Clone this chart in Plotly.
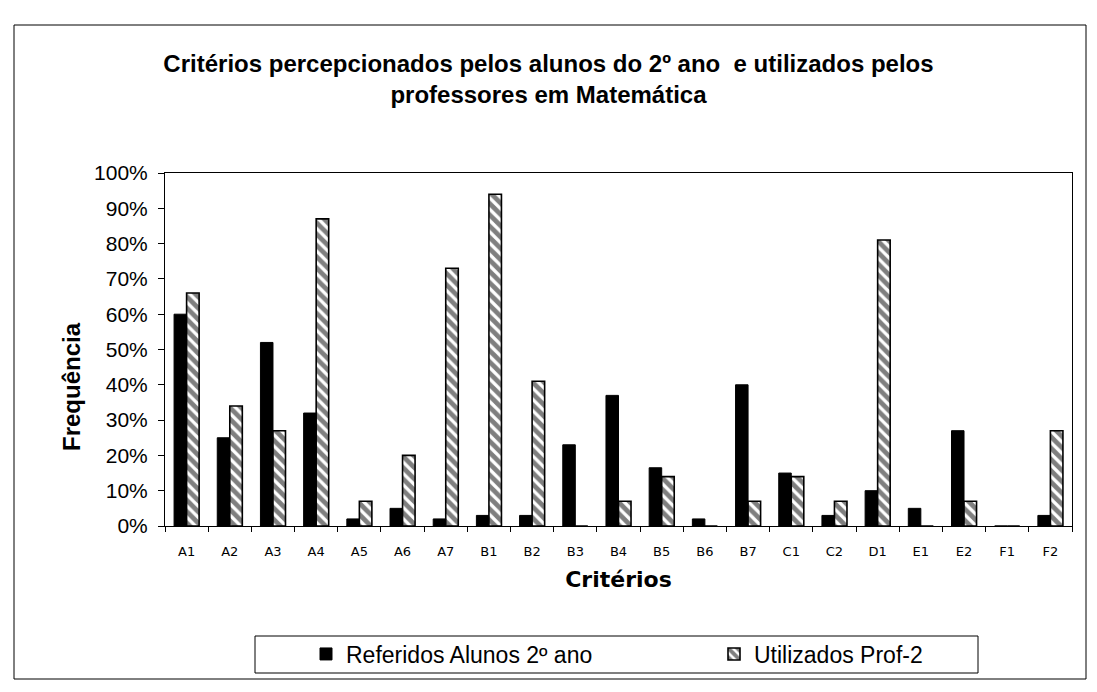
import plotly.graph_objects as go

categories = ["A1", "A2", "A3", "A4", "A5", "A6", "A7", "B1", "B2", "B3", "B4",
              "B5", "B6", "B7", "C1", "C2", "D1", "E1", "E2", "F1", "F2"]
alunos = [60, 25, 52, 32, 2, 5, 2, 3, 3, 23, 37, 16.5, 2, 40, 15, 3, 10, 5, 27, 0, 3]
prof = [66, 34, 27, 87, 7, 20, 73, 94, 41, 0, 7, 14, 0, 7, 14, 7, 81, 0, 7, 0, 27]
y_ticks = [0, 10, 20, 30, 40, 50, 60, 70, 80, 90, 100]
y_tick_labels = [f"{v}%" for v in y_ticks]

# page has an 8px body margin: figure sized to fit the 1097x692 window
OFF = 8
W, H = 1097 - 2 * OFF, 692 - 2 * OFF
# plot area in screen pixels: x 165..1072, y 173..526
L = 165 - OFF
R = W - (1072 - OFF)
T = 173 - OFF
B = H - (526 - OFF)
pw, ph = W - L - R, H - T - B


def px(x):
    """screen x -> paper x"""
    return (x - OFF - L) / pw


def py(y):
    """screen y -> paper y"""
    return (H - B - (y - OFF)) / ph


fig = go.Figure()
fig.add_trace(go.Bar(
    x=categories, y=alunos, name="Referidos Alunos 2º ano", legend="legend",
    marker=dict(color="black", line=dict(color="black", width=1)),
))
fig.add_trace(go.Bar(
    x=categories, y=prof, name="Utilizados Prof-2", legend="legend2",
    marker=dict(color="white", line=dict(color="black", width=1.6),
                pattern=dict(shape="\\", fgcolor="black", bgcolor="white",
                             size=8, solidity=0.6)),
))

legend_font = dict(family="Liberation Sans, Arial", size=23, color="black")

fig.update_layout(
    width=W, height=H,
    margin=dict(l=L, r=R, t=T, b=B, autoexpand=False),
    paper_bgcolor="white", plot_bgcolor="white",
    showlegend=True,
    barmode="group", bargap=0.42, bargroupgap=0,
    title=dict(
        text="Critérios percepcionados pelos alunos do 2º ano  e utilizados pelos<br>professores em Matemática",
        x=0.5, xanchor="center", xref="container",
        y=1 - 64 / H, yanchor="middle", yref="container",
        font=dict(family="Liberation Sans, Arial", size=24, color="black", weight="bold"),
    ),
    font=dict(family="Liberation Sans, Arial", color="black"),
    xaxis=dict(
        type="category", categoryorder="array", categoryarray=categories,
        showline=True, linecolor="black", linewidth=1, mirror=True,
        ticks="outside", ticklen=5, tickcolor="black", tickson="boundaries",
        ticklabelstandoff=13,
        tickfont=dict(family="DejaVu Sans, Verdana", size=13, color="black"),
        title=dict(text="Critérios", standoff=14,
                   font=dict(family="DejaVu Sans, Verdana", size=22, color="black", weight="bold")),
        showgrid=False,
    ),
    yaxis=dict(
        range=[0, 100], tickvals=y_ticks, ticktext=y_tick_labels,
        showline=True, linecolor="black", linewidth=1, mirror=True,
        ticks="outside", ticklen=6, tickcolor="black",
        ticklabelstandoff=6,
        tickfont=dict(family="Liberation Sans, Arial", size=21, color="black"),
        showgrid=False, zeroline=False,
    ),
    legend=dict(
        orientation="h", x=px(306), xanchor="left", y=py(654), yanchor="middle",
        bgcolor="rgba(0,0,0,0)", borderwidth=0, font=legend_font, visible=True,
    ),
    legend2=dict(
        orientation="h", x=px(714), xanchor="left", y=py(654), yanchor="middle",
        bgcolor="rgba(0,0,0,0)", borderwidth=0, font=legend_font, visible=True,
    ),
    annotations=[
        dict(text="Frequência", xref="paper", yref="paper",
             x=px(71), y=py(387), xanchor="center", yanchor="middle",
             textangle=-90, showarrow=False,
             font=dict(family="Liberation Sans, Arial", size=24, color="black", weight="bold")),
    ],
    shapes=[
        dict(type="rect", xref="paper", yref="paper",
             x0=px(14), x1=px(1086), y0=py(679), y1=py(25),
             line=dict(color="black", width=1), fillcolor="rgba(0,0,0,0)", layer="below"),
        dict(type="rect", xref="paper", yref="paper",
             x0=px(255), x1=px(978), y0=py(673), y1=py(636),
             line=dict(color="black", width=1), fillcolor="rgba(0,0,0,0)", layer="below"),
    ],
)

fig.write_html("out.html")
